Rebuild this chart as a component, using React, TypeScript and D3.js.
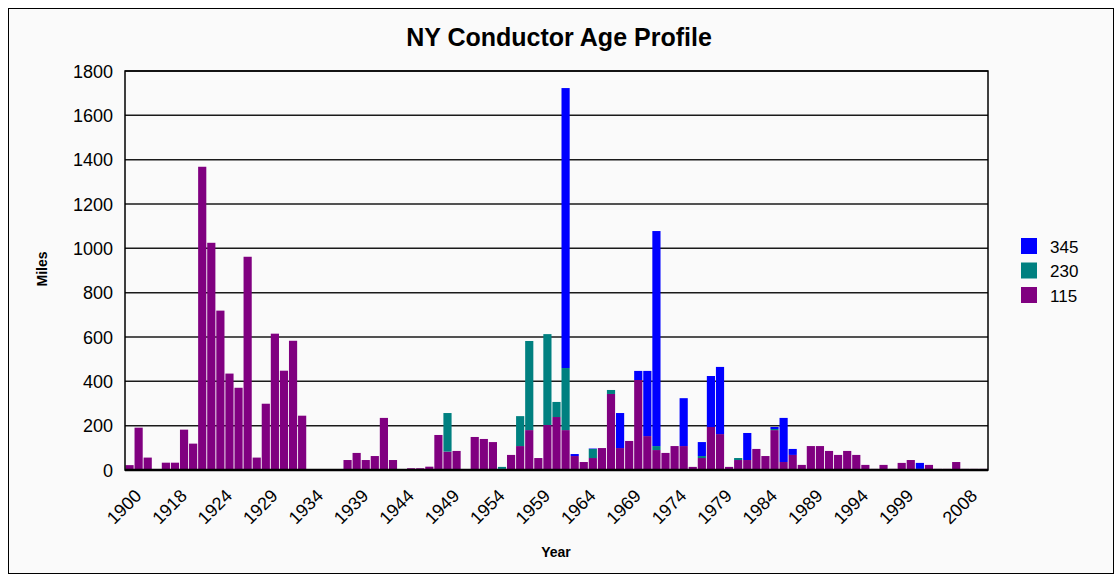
import React from "react";
import * as d3 from 'd3';

// category years (one bar each); only some are labelled on the axis
const years: string[] = [
	'1900', '1905', '1910', '1915', '1917', '1918', '1919', '1920', '1921', '1922',
	'1924', '1925', '1926', '1927', '1928', '1929', '1930', '1931', '1932', '1933',
	'1934', '1935', '1936', '1937', '1938', '1939', '1940', '1941', '1942', '1943',
	'1944', '1945', '1946', '1947', '1948', '1949', '1950', '1951', '1952', '1953',
	'1954', '1955', '1956', '1957', '1958', '1959', '1960', '1961', '1962', '1963',
	'1964', '1965', '1966', '1967', '1968', '1969', '1970', '1971', '1972', '1973',
	'1974', '1975', '1976', '1977', '1978', '1979', '1980', '1981', '1982', '1983',
	'1984', '1985', '1986', '1987', '1988', '1989', '1990', '1991', '1992', '1993',
	'1994', '1995', '1996', '1997', '1998', '1999', '2000', '2001', '2002', '2004',
	'2006', '2007', '2008', '2009', '2010'
];

const tickYears: string[] = [
	'1900', '1918', '1924', '1929', '1934', '1939', '1944', '1949', '1954', '1959',
	'1964', '1969', '1974', '1979', '1984', '1989', '1994', '1999', '2008'
];

const miles115: number[] = [
	22, 191, 56, 0, 33, 33, 182, 119, 1368, 1025,
	719, 435, 371, 962, 56, 299, 615, 448, 583, 245,
	3, 2, 2, 4, 45, 77, 45, 63, 235, 45,
	2, 8, 8, 15, 158, 83, 86, 2, 149, 140,
	126, 5, 68, 108, 180, 54, 203, 239, 180, 63,
	36, 54, 99, 343, 99, 131, 406, 153, 90, 77,
	108, 108, 14, 54, 194, 162, 14, 45, 45, 95,
	63, 180, 36, 68, 23, 108, 108, 86, 68, 86,
	68, 23, 5, 23, 5, 32, 45, 5, 23, 5,
	5, 36, 5, 5, 5
];

const miles230: number[] = [
	0, 0, 0, 0, 0, 0, 0, 0, 0, 0,
	0, 0, 0, 0, 0, 0, 0, 0, 0, 0,
	0, 0, 0, 0, 0, 0, 0, 0, 0, 0,
	0, 0, 0, 0, 0, 174, 0, 0, 0, 0,
	0, 9, 0, 135, 402, 0, 410, 68, 280, 0,
	0, 41, 0, 18, 0, 0, 0, 0, 18, 0,
	0, 0, 0, 9, 0, 0, 0, 9, 0, 0,
	0, 5, 0, 0, 0, 0, 0, 0, 0, 0,
	0, 0, 0, 0, 0, 0, 0, 0, 0, 0,
	0, 0, 0, 0, 0
];

const miles345: number[] = [
	0, 0, 0, 0, 0, 0, 0, 0, 0, 0,
	0, 0, 0, 0, 0, 0, 0, 0, 0, 0,
	0, 0, 0, 0, 0, 0, 0, 0, 0, 0,
	0, 0, 0, 0, 0, 0, 0, 0, 0, 0,
	0, 0, 0, 0, 0, 0, 0, 0, 1263, 9,
	0, 2, 0, 0, 158, 0, 41, 294, 970, 0,
	0, 216, 0, 63, 230, 303, 0, 0, 122, 0,
	0, 9, 199, 27, 0, 0, 0, 0, 0, 0,
	0, 0, 0, 0, 0, 0, 0, 27, 0, 0,
	0, 0, 0, 0, 0
];

const yTicks: number[] = [0, 200, 400, 600, 800, 1000, 1200, 1400, 1600, 1800];

const seriesKeys = ['115', '230', '345'];
const seriesColors: { [k: string]: string } = { '115': '#800080', '230': '#008080', '345': '#0000FF' };
const legendOrder = ['345', '230', '115'];

const FONT = 'Arial, "Liberation Sans", Helvetica, sans-serif';

class App extends React.Component<{}, {}> {
	myRef: React.RefObject<HTMLDivElement>;
	renderd: boolean = false;

	constructor(props: {}) {
		super(props);
		this.myRef = React.createRef();
	}

	componentDidMount() {
		if (this.renderd) {
			return;
		}
		this.renderd = true;

		const width = 1115;
		const height = 575;
		const left = 125, right = 988, top = 71, bottom = 470;

		const svg = d3.select(this.myRef.current)
			.append('svg')
			.attr('width', width)
			.attr('height', height)
			.style('position', 'absolute')
			.style('left', '0px')
			.style('top', '0px')
			.style('font-family', FONT);

		// chart frame
		svg.append('rect')
			.attr('x', 8.5).attr('y', 8.5)
			.attr('width', width - 10).attr('height', height - 10)
			.attr('fill', '#FAFAFA')
			.attr('stroke', '#000')
			.attr('stroke-width', 1);

		const rows = years.map((y, i) => ({
			year: y,
			'115': miles115[i],
			'230': miles230[i],
			'345': miles345[i]
		}));

		const x = d3.scaleBand<string>()
			.domain(years)
			.range([left, right])
			.paddingInner(0.1)
			.paddingOuter(0.05);

		const y = d3.scaleLinear().domain([0, 1800]).range([bottom, top]);

		// gridlines
		svg.append('g')
			.selectAll('line')
			.data(yTicks)
			.enter()
			.append('line')
			.attr('x1', left).attr('x2', right)
			.attr('y1', (d) => y(d)).attr('y2', (d) => y(d))
			.attr('stroke', '#1a1a1a')
			.attr('stroke-width', 1.5);

		// stacked bars
		const stack = d3.stack<any>().keys(seriesKeys);
		const layers = stack(rows as any);

		svg.append('g')
			.selectAll('g')
			.data(layers)
			.enter()
			.append('g')
			.attr('fill', (d) => seriesColors[d.key])
			.selectAll('rect')
			.data((d) => d)
			.enter()
			.append('rect')
			.attr('x', (d: any) => x(d.data.year) as number)
			.attr('width', x.bandwidth())
			.attr('y', (d) => y(d[1]))
			.attr('height', (d) => Math.max(0, y(d[0]) - y(d[1])));

		// plot border
		svg.append('rect')
			.attr('x', left).attr('y', top)
			.attr('width', right - left).attr('height', bottom - top)
			.attr('fill', 'none')
			.attr('stroke', '#000')
			.attr('stroke-width', 1.5);

		svg.append('line')
			.attr('x1', left).attr('x2', right)
			.attr('y1', bottom).attr('y2', bottom)
			.attr('stroke', '#000')
			.attr('stroke-width', 2.5);

		// y tick labels
		svg.append('g')
			.selectAll('text')
			.data(yTicks)
			.enter()
			.append('text')
			.attr('x', 113)
			.attr('y', (d) => y(d) + 6.5)
			.attr('text-anchor', 'end')
			.attr('font-size', 18)
			.attr('fill', '#000')
			.text((d) => d);

		// x tick labels, rotated
		svg.append('g')
			.selectAll('text')
			.data(tickYears)
			.enter()
			.append('text')
			.attr('transform', (d) => {
				const cx = (x(d) as number) + x.bandwidth() / 2;
				return `translate(${cx + 13}, 497) rotate(-45)`;
			})
			.attr('text-anchor', 'end')
			.attr('font-size', 18)
			.attr('fill', '#000')
			.text((d) => d);

		// title and axis titles
		svg.append('text')
			.attr('x', 559).attr('y', 46)
			.attr('text-anchor', 'middle')
			.attr('font-size', 25)
			.attr('font-weight', 'bold')
			.text('NY Conductor Age Profile');

		svg.append('text')
			.attr('x', 556).attr('y', 557)
			.attr('text-anchor', 'middle')
			.attr('font-size', 14)
			.attr('font-weight', 'bold')
			.text('Year');

		svg.append('text')
			.attr('transform', 'translate(47, 269) rotate(-90)')
			.attr('text-anchor', 'middle')
			.attr('font-size', 14)
			.attr('font-weight', 'bold')
			.text('Miles');

		// legend
		const lg = svg.append('g').attr('transform', 'translate(1021, 238)');
		legendOrder.forEach((k, i) => {
			lg.append('rect')
				.attr('x', 0).attr('y', i * 24.5)
				.attr('width', 16).attr('height', 16)
				.attr('fill', seriesColors[k]);
			lg.append('text')
				.attr('x', 29).attr('y', i * 24.5 + 14.5)
				.attr('font-size', 17)
				.attr('fill', '#000')
				.text(k);
		});
	}

	render() {
		return <div ref={this.myRef} />;
	}
}

export default App;
